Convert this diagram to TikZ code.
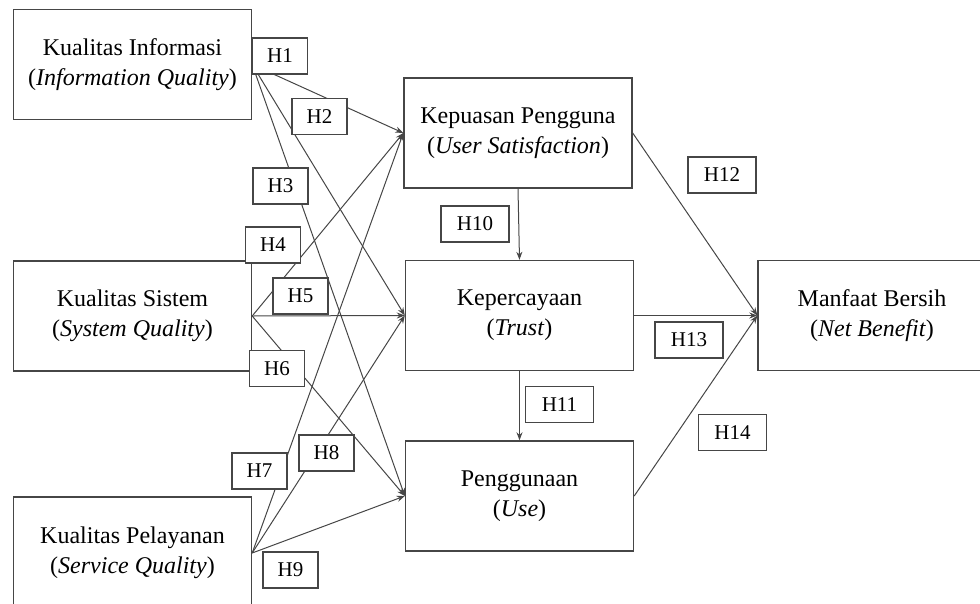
\documentclass[tikz,border=0pt]{standalone}
\usepackage{fontspec}
\setmainfont{Liberation Serif}
\usepackage{tikz}
\definecolor{linegray}{RGB}{70,70,70}
\usetikzlibrary{arrows.meta}
\tikzset{
  var_n/.style = {rectangle, draw=linegray, line width=1.4pt, fill=white,
    align=center, font=\fontsize{24}{30}\selectfont,
    minimum width=238pt, minimum height=110pt},% variabel kiri
  var_m/.style = {var_n, minimum width=228pt},% variabel tengah/kanan
  hyp_s/.style = {rectangle, draw=linegray, line width=1.2pt, fill=white,
    inner sep=0pt, font=\fontsize{21}{24}\selectfont,
    minimum width=55pt, minimum height=36pt},% hipotesis H1-H9
  hyp_l/.style = {hyp_s, minimum width=68pt},% hipotesis H10-H14
  conn/.style = {-{Stealth[length=8pt,width=6pt]}, draw=linegray, line width=1pt},
}

\begin{document}
\begin{tikzpicture}[x=1pt,y=-1pt]
  \useasboundingbox (0,0) rectangle (980,603);
  \clip (0,0) rectangle (980,603);

  \node[var_n] (ki) at (132.5,64.5) {Kualitas Informasi\\(\textit{Information Quality})};
  \node[var_n] (ks) at (132.5,316) {Kualitas Sistem\\(\textit{System Quality})};
  \node[var_n, minimum height=112pt] (kp) at (132.5,553) {Kualitas Pelayanan\\(\textit{Service Quality})};

  \node[var_m] (kep) at (518,133) {Kepuasan Pengguna\\(\textit{User Satisfaction})};
  \node[var_m] (kpc) at (519.5,315.5) {Kepercayaan\\(\textit{Trust})};
  \node[var_m] (pgn) at (519.5,496) {Penggunaan\\(\textit{Use})};

  \node[var_m] (mb) at (872,315.5) {Manfaat Bersih\\(\textit{Net Benefit})};

  %   kualitas -> kepuasan, kepercayaan, penggunaan
  \draw[conn] (ki.east) -- (kep.west);
  \draw[conn] (ki.east) -- (kpc.west);
  \draw[conn] (ki.east) -- (pgn.west);
  \draw[conn] (ks.east) -- (kep.west);
  \draw[conn] (ks.east) -- (kpc.west);
  \draw[conn] (ks.east) -- (pgn.west);
  \draw[conn] (kp.east) -- (kep.west);
  \draw[conn] (kp.east) -- (kpc.west);
  \draw[conn] (kp.east) -- (pgn.west);
  %   antar variabel tengah
  \draw[conn] (kep.south) -- (kpc.north);
  \draw[conn] (kpc.south) -- (pgn.north);
  %   ke manfaat bersih
  \draw[conn] (kep.east) -- (mb.west);
  \draw[conn] (kpc.east) -- (mb.west);
  \draw[conn] (pgn.east) -- (mb.west);

  \foreach \place/\x in {{(280,56)/1}, {(319.5,116.5)/2}, {(280.5,186)/3},
      {(273,245)/4}, {(300.5,296)/5}, {(277,368.5)/6},
      {(259.5,471)/7}, {(326.5,453)/8}, {(290.5,570)/9}}
  \node[hyp_s] (h\x) at \place {H\x};
  \foreach \place/\x in {{(475,224)/10}, {(559.5,404.5)/11}, {(722,175)/12},
      {(689,340)/13}, {(732.5,432.5)/14}}
  \node[hyp_l] (h\x) at \place {H\x};
\end{tikzpicture}
\end{document}
